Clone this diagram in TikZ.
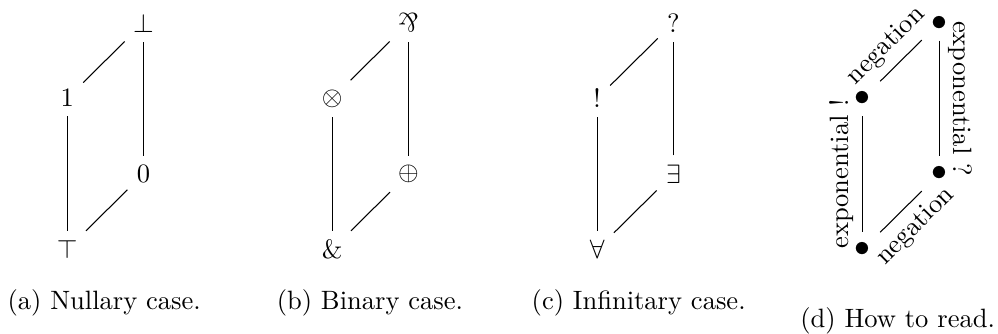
\documentclass[tikz,border=0pt]{standalone}
\usepackage{graphicx}
\newcommand{\parrsym}{\rotatebox[origin=c]{180}{$\&$}}
\begin{document}
\begin{tikzpicture}[capt/.style={anchor=base},pt/.style={minimum height=13pt,font=\large}]
\useasboundingbox (0,0) rectangle (13.22,4.424);
% (a) nullary
\node (top) at (0.89,1.12) {$\top$};
\node (zero) at (1.90,2.12) {$0$};
\node (one) at (0.89,3.12) {$1$};
\node (bot) at (1.90,4.12) {$\bot$};
\draw (top) -- (one);
\draw (zero) -- (bot);
\draw (one) -- (bot);
\draw (top) -- (zero);
\node[capt] (capa) at (1.38,0.33) {(a) Nullary case.};
% (b) binary
\node (with) at (4.40,1.12) {$\&$};
\node (plus) at (5.41,2.12) {$\oplus$};
\node (tens) at (4.40,3.12) {$\otimes$};
\node (parr) at (5.41,4.12) {\parrsym};
\draw (with) -- (tens);
\draw (plus) -- (parr);
\draw (tens) -- (parr);
\draw (with) -- (plus);
\node[capt] (capb) at (4.90,0.33) {(b) Binary case.};
% (c) infinitary
\node (forall) at (7.91,1.12) {$\forall$};
\node (exists) at (8.92,2.12) {$\exists$};
\node (bang) at (7.91,3.12) {$!$};
\node (quest) at (8.92,4.12) {$?$};
\draw (forall) -- (bang);
\draw (exists) -- (quest);
\draw (bang) -- (quest);
\draw (forall) -- (exists);
\node[capt] (capc) at (8.46,0.33) {(c) Infinitary case.};
% (d) how to read
\node[pt] (d1) at (11.43,1.12) {$\bullet$};
\node[pt] (d2) at (12.44,2.12) {$\bullet$};
\node[pt] (d3) at (11.43,3.12) {$\bullet$};
\node[pt] (d4) at (12.44,4.12) {$\bullet$};
\draw (d1) -- (d3) node[midway,anchor=south,rotate=90] {exponential !};
\draw (d4) -- (d2) node[midway,anchor=south,rotate=-90] {exponential ?};
\draw (d3) -- (d4) node[midway,anchor=south,rotate=45] {negation};
\draw (d1) -- (d2) node[midway,anchor=north,rotate=45] {negation};
\node[capt] (capd) at (11.89,0.08) {(d) How to read.};
\end{tikzpicture}
\end{document}
